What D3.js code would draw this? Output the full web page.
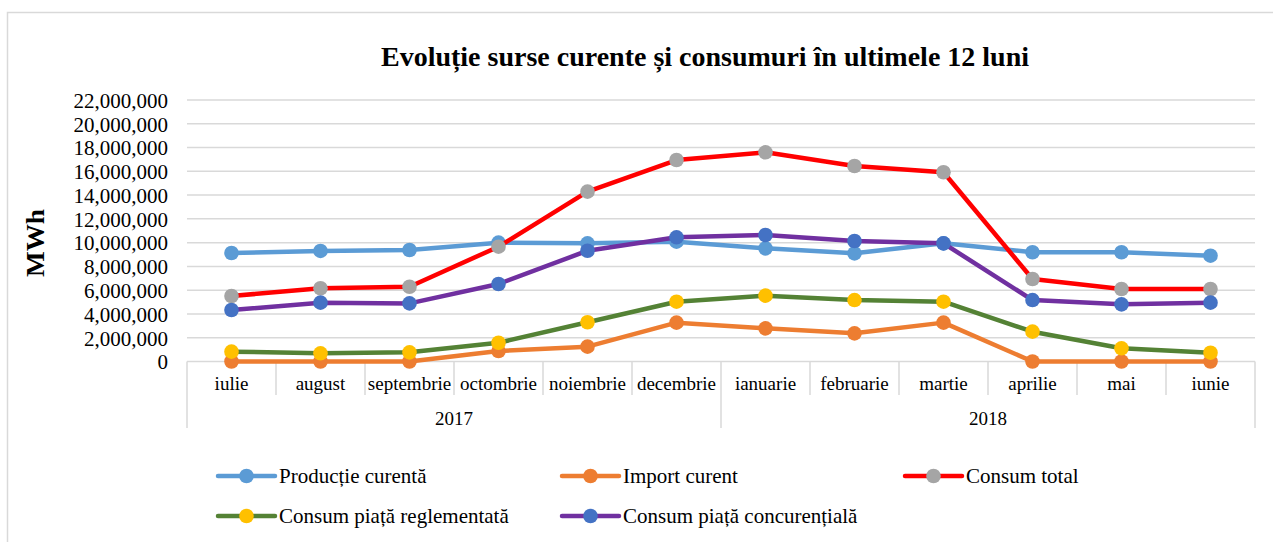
<!DOCTYPE html>
<html><head><meta charset="utf-8">
<script src="https://cdn.jsdelivr.net/npm/d3@7"></script>
<style>body{margin:0;background:#fff}svg{display:block;font-family:"Liberation Serif","Times New Roman",serif}</style>
</head><body><svg id="c" width="1273" height="542"></svg>
<script>
const months = ["iulie","august","septembrie","octombrie","noiembrie","decembrie","ianuarie","februarie","martie","aprilie","mai","iunie"];
const years = [{label:"2017", from:0, to:5},{label:"2018", from:6, to:11}];
const yTicks = [0,2e6,4e6,6e6,8e6,10e6,12e6,14e6,16e6,18e6,20e6,22e6];
const productie = [9.13e6,9.3e6,9.38e6,10.0e6,9.94e6,10.08e6,9.52e6,9.1e6,9.94e6,9.19e6,9.19e6,8.9e6];
const importCurent = [0,0,0,0.88e6,1.25e6,3.27e6,2.79e6,2.37e6,3.27e6,0,0,0];
const consumTotal = [5.51e6,6.16e6,6.29e6,9.66e6,14.29e6,16.95e6,17.6e6,16.45e6,15.92e6,6.94e6,6.1e6,6.1e6];
const reglementata = [0.83e6,0.69e6,0.77e6,1.58e6,3.3e6,5.03e6,5.54e6,5.17e6,5.03e6,2.51e6,1.11e6,0.74e6];
const concurentiala = [4.33e6,4.95e6,4.89e6,6.52e6,9.32e6,10.45e6,10.64e6,10.14e6,9.94e6,5.17e6,4.81e6,4.95e6];
const seriesNames = ["Producție curentă","Import curent","Consum total","Consum piață reglementată","Consum piață concurențială"];

const series = [
  {name:seriesNames[0], values:productie, line:"#5B9BD5", marker:"#5B9BD5"},
  {name:seriesNames[1], values:importCurent, line:"#ED7D31", marker:"#ED7D31"},
  {name:seriesNames[2], values:consumTotal, line:"#FF0000", marker:"#A5A5A5"},
  {name:seriesNames[3], values:reglementata, line:"#548235", marker:"#FFC000"},
  {name:seriesNames[4], values:concurentiala, line:"#7030A0", marker:"#4472C4"}
];

const svg = d3.select("#c");
const L=187, R=1255, T=100, B=361.5;
const x = d3.scaleBand().domain(months).range([L,R]);
const y = d3.scaleLinear().domain([0,22e6]).range([B,T]);

// outer border
svg.append("path").attr("d","M7.5,542 L7.5,12.5 L1273,12.5").attr("fill","none").attr("stroke","#d9d9d9").attr("stroke-width",1.5);

// title
svg.append("text").attr("x",705).attr("y",66).attr("text-anchor","middle")
  .attr("font-size",27).attr("font-weight","bold")
  .attr("textLength",648).attr("lengthAdjust","spacingAndGlyphs")
  .text("Evoluție surse curente și consumuri în ultimele 12 luni");

// gridlines
svg.append("g").selectAll("line").data(yTicks.filter(d=>d>0)).join("line")
  .attr("x1",L).attr("x2",R).attr("y1",d=>y(d)).attr("y2",d=>y(d))
  .attr("stroke","#d9d9d9").attr("stroke-width",1.5);

// y axis labels
const yAxis = d3.axisLeft(y).tickValues(yTicks).tickSize(0).tickPadding(0).tickFormat(d3.format(",.0f"));
const gy = svg.append("g").attr("transform",`translate(168,0)`).call(yAxis);
gy.select(".domain").remove();
gy.selectAll("text").attr("font-family","Liberation Serif, Times New Roman, serif").attr("font-size",21).attr("fill","#000").attr("dy","0.35em");

// y title
svg.append("text").attr("transform","translate(44,243) rotate(-90)").attr("text-anchor","middle")
  .attr("font-size",26).attr("font-weight","bold")
  .attr("textLength",68).attr("lengthAdjust","spacingAndGlyphs").text("MWh");

// category axis
const ax = svg.append("g");
ax.append("line").attr("x1",L).attr("x2",R).attr("y1",B).attr("y2",B).attr("stroke","#d9d9d9").attr("stroke-width",1.5);
const bounds = d3.range(months.length+1);
ax.selectAll("line.tick").data(bounds).join("line").attr("class","tick")
  .attr("x1",i=>i<months.length?x(months[i]):R).attr("x2",i=>i<months.length?x(months[i]):R)
  .attr("y1",B).attr("y2",i=>(i===0||i===6||i===12)?428:395)
  .attr("stroke","#d9d9d9").attr("stroke-width",1.5);
ax.selectAll("text.m").data(months).join("text").attr("class","m")
  .attr("x",d=>x(d)+x.bandwidth()/2).attr("y",390).attr("text-anchor","middle").attr("font-size",19).text(d=>d);
ax.selectAll("text.yr").data(years).join("text").attr("class","yr")
  .attr("x",d=>(x(months[d.from])+x(months[d.to])+x.bandwidth())/2).attr("y",425).attr("text-anchor","middle").attr("font-size",19).text(d=>d.label);

// lines
const line = d3.line().x((d,i)=>x(months[i])+x.bandwidth()/2).y(d=>y(d));
series.forEach(s=>{
  const g = svg.append("g");
  g.append("path").attr("d",line(s.values)).attr("fill","none").attr("stroke",s.line).attr("stroke-width",4.5).attr("stroke-linejoin","round").attr("stroke-linecap","round");
  g.selectAll("circle").data(s.values).join("circle")
    .attr("cx",(d,i)=>x(months[i])+x.bandwidth()/2).attr("cy",d=>y(d)).attr("r",7.3).attr("fill",s.marker);
});

// legend
const legPos = [[218,476],[562,476],[905,476],[218,516],[562,516]];
series.forEach((s,i)=>{
  const [lx,ly] = legPos[i];
  const g = svg.append("g").attr("transform",`translate(${lx},${ly})`);
  g.append("line").attr("x1",0).attr("x2",57).attr("y1",0).attr("y2",0).attr("stroke",s.line).attr("stroke-width",4.5).attr("stroke-linecap","round");
  g.append("circle").attr("cx",28.5).attr("cy",0).attr("r",7.3).attr("fill",s.marker);
  g.append("text").attr("x",61).attr("y",0).attr("dy","0.35em").attr("font-size",21).text(s.name);
});
</script></body></html>
